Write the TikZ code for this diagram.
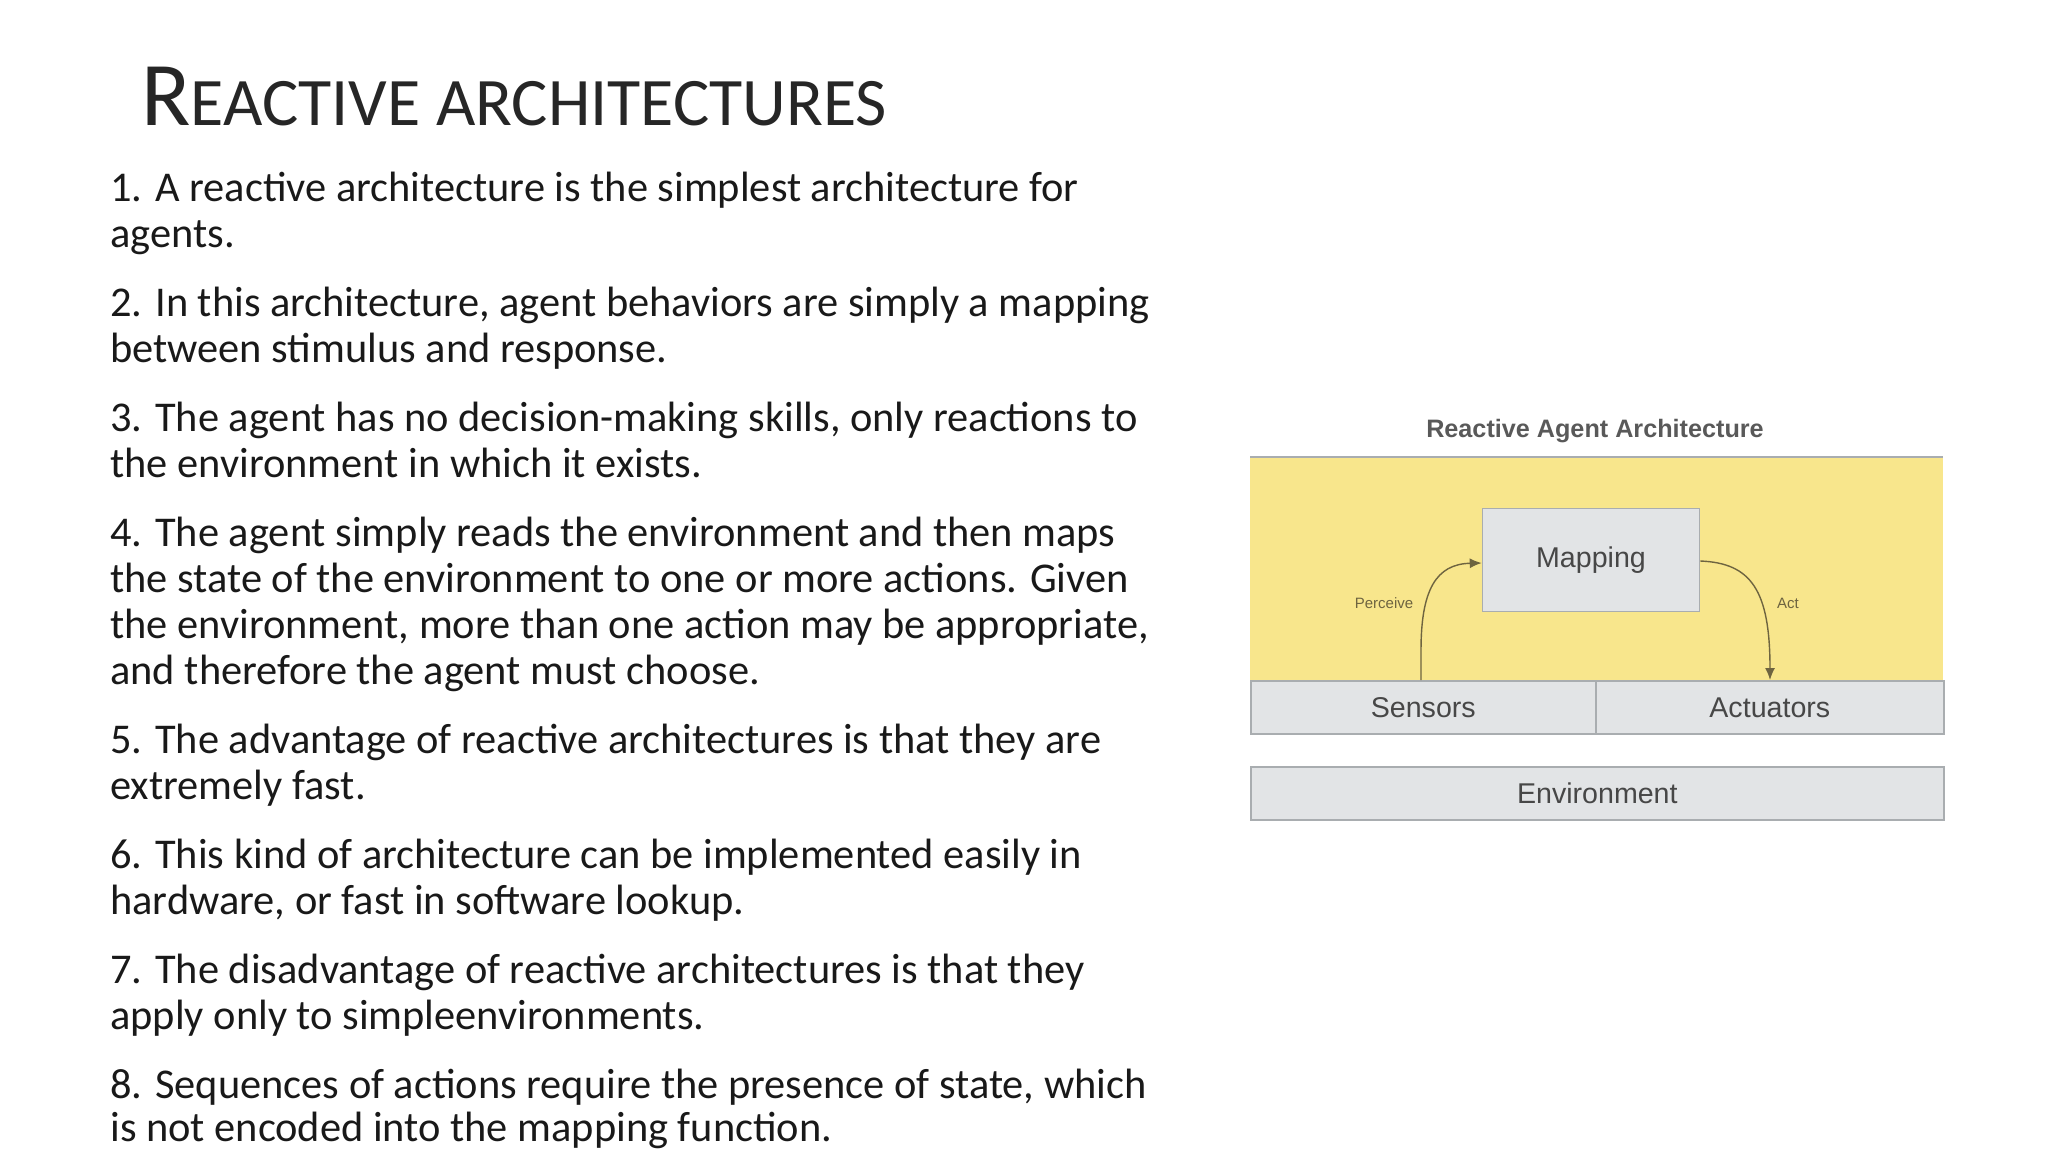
\documentclass[tikz,border=0pt]{standalone}
\usepackage{fontspec}
\setmainfont{Carlito}
\newfontfamily\diagfont{Liberation Sans}
\usetikzlibrary{arrows.meta}
\definecolor{agentyellow}{HTML}{F8E68C}
\definecolor{boxgray}{HTML}{E2E4E6}
\definecolor{edgegray}{HTML}{A9ADB0}
\definecolor{arrowcol}{HTML}{6E6440}
\tikzset{
  body/.style={anchor=base west, inner sep=0pt, font=\fontsize{21.2}{25}\selectfont, text=black!90},
  graybox/.style={draw=edgegray, fill=boxgray, line width=0.8pt, inner sep=0pt},
  dlabel/.style={font=\diagfont\fontsize{14.3}{16}\selectfont, text=black!72},
  tiny/.style={font=\diagfont\fontsize{7.5}{8}\selectfont, text=arrowcol},
  flow/.style={draw=arrowcol, line width=0.7pt, -{Latex[length=6pt,width=5pt]}}
}
\begin{document}
\begin{tikzpicture}[x=0.5pt,y=-0.5pt]
\useasboundingbox (0,0) rectangle (2048,1152);
\node[anchor=base west, inner sep=0pt, text=black!85] (title) at (141,125)
  {\fontsize{45.5}{50}\selectfont R\fontsize{34}{38}\selectfont EACTIVE ARCHITECTURES};
\node[body] (l1) at (110,201) {1. A reactive architecture is the simplest architecture for};
\node[body] (l2) at (110,247) {agents.};
\node[body] (l3) at (110,316) {2. In this architecture, agent behaviors are simply a mapping};
\node[body] (l4) at (110,362) {between stimulus and response.};
\node[body] (l5) at (110,431) {3. The agent has no decision-making skills, only reactions to};
\node[body] (l6) at (110,477) {the environment in which it exists.};
\node[body] (l7) at (110,546) {4. The agent simply reads the environment and then maps};
\node[body] (l8) at (110,592) {the state of the environment to one or more actions. Given};
\node[body] (l9) at (110,638) {the environment, more than one action may be appropriate,};
\node[body] (l10) at (110,684) {and therefore the agent must choose.};
\node[body] (l11) at (110,753) {5. The advantage of reactive architectures is that they are};
\node[body] (l12) at (110,799) {extremely fast.};
\node[body] (l13) at (110,868) {6. This kind of architecture can be implemented easily in};
\node[body] (l14) at (110,914) {hardware, or fast in software lookup.};
\node[body] (l15) at (110,983) {7. The disadvantage of reactive architectures is that they};
\node[body] (l16) at (110,1029) {apply only to simpleenvironments.};
\node[body] (l17) at (110,1098) {8. Sequences of actions require the presence of state, which};
\node[body] (l18) at (110,1141) {is not encoded into the mapping function.};
% diagram
\begin{scope}[xshift=-7pt]
\node[font=\diagfont\bfseries\fontsize{12.6}{14}\selectfont, text=black!65] (dtitle) at (1609,431) {Reactive Agent Architecture};
\fill[agentyellow] (1264,457) rectangle (1957,680);
\draw[edgegray, line width=0.8pt] (1264,457) -- (1957,457);
\node[graybox, minimum width=108.5pt, minimum height=51.5pt, dlabel] (map) at (1605,560) {Mapping};
\node[graybox, minimum width=172.5pt, minimum height=26.5pt, anchor=north west, dlabel] (sens) at (1264,680) {Sensors};
\node[graybox, minimum width=174pt, minimum height=26.5pt, anchor=north west, dlabel] (act) at (1609,680) {Actuators};
\node[graybox, minimum width=346.5pt, minimum height=26.5pt, anchor=north west, dlabel] (env) at (1264,766) {Environment};
\coordinate (sfoot) at (1435,680);
\coordinate (afoot) at (1784,680);
\draw[flow] (sfoot) -- (1435,650) .. controls (1435,590) and (1450,564) .. (map.west |- 0,563);
\draw[flow] (map.east |- 0,561) .. controls (1765,563) and (1784,590) .. (afoot);
\node[tiny] (perc) at (1398,603) {Perceive};
\node[tiny] (actl) at (1802,603) {Act};
\end{scope}
\end{tikzpicture}
\end{document}
